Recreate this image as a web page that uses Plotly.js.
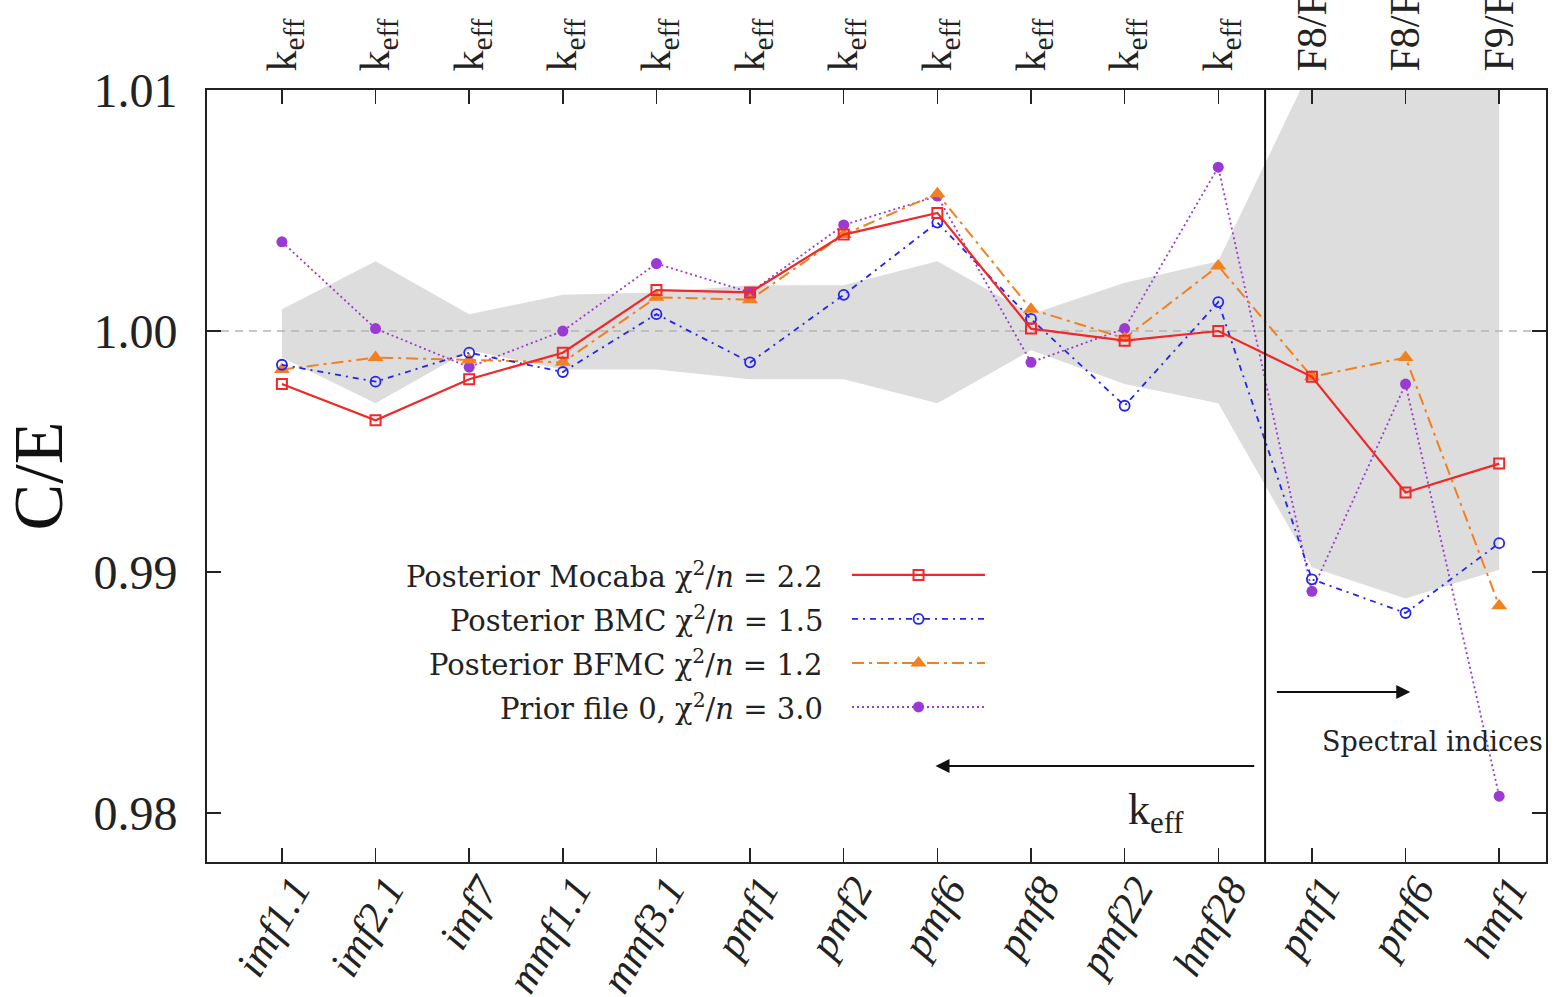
<!DOCTYPE html>
<html><head><meta charset="utf-8">
<script src="https://cdn.plot.ly/plotly-3.0.1.min.js"></script>
<style>html,body{margin:0;padding:0;background:#fff;} #chart{width:1554px;height:997px;}</style>
</head><body><div id="chart"></div>
<script>
// ---- data ----
const categories = ['imf1.1','imf2.1','imf7','mmf1.1','mmf3.1','pmf1','pmf2','pmf6','pmf8','pmf22','hmf28','pmf1','pmf6','hmf1'];
const topLabels = ['k<sub>eff</sub>','k<sub>eff</sub>','k<sub>eff</sub>','k<sub>eff</sub>','k<sub>eff</sub>','k<sub>eff</sub>','k<sub>eff</sub>','k<sub>eff</sub>','k<sub>eff</sub>','k<sub>eff</sub>','k<sub>eff</sub>','F8/F5','F8/F5','F9/F5'];
const mocaba = [0.9978,0.9963,0.9980,0.9991,1.0017,1.0016,1.0040,1.0049,1.0001,0.9996,1.0000,0.9981,0.9933,0.9945];
const bmc    = [0.9986,0.9979,0.9991,0.9983,1.0007,0.9987,1.0015,1.0045,1.0005,0.9969,1.0012,0.9897,0.9883,0.9912];
const bfmc   = [0.9984,0.9989,0.9988,0.9987,1.0014,1.0013,1.0040,1.0057,1.0009,0.9997,1.0027,0.9981,0.9989,0.9886];
const prior  = [1.0037,1.0001,0.9985,1.0000,1.0028,1.0016,1.0044,1.0056,0.9987,1.0001,1.0068,0.9892,0.9978,0.9807];
const bandUpper = [1.0009,1.0029,1.0007,1.0015,1.0016,1.0019,1.0019,1.0029,1.0007,1.0020,1.0029,1.0110,1.0110,1.0110];
const bandLower = [0.9989,0.9970,0.9992,0.9984,0.9984,0.9980,0.9980,0.9970,0.9992,0.9978,0.9970,0.9902,0.9889,0.9901];
const seriesNames = ['Posterior Mocaba χ<sup>2</sup>/<i>n</i> = 2.2','Posterior BMC χ<sup>2</sup>/<i>n</i> = 1.5','Posterior BFMC χ<sup>2</sup>/<i>n</i> = 1.2','Prior file 0, χ<sup>2</sup>/<i>n</i> = 3.0'];
const yTicks = [0.98,0.99,1.00,1.01];
const yTickText = ['0.98','0.99','1.00','1.01'];
const unity = 1.0;

// ---- styles ----
const FONT = 'Liberation Serif, Times New Roman, serif';
const FONT2 = 'DejaVu Serif, serif';
const xs = categories.map((_, i) => i);
const xr = [-0.8, 13.5];
const yr = [0.97797, 1.01];
const styles = [
  {color:'#f02828', dash:'solid', width:2.2, symbol:'square-open', size:10, mlw:2},
  {color:'#2424f0', dash:'6px,5px,2px,5px', width:1.8, symbol:'circle-open', size:10, mlw:1.8},
  {color:'#f08020', dash:'12px,5px,3px,5px', width:2, symbol:'triangle-up', size:14, mlw:0},
  {color:'#9a3ad2', dash:'2px,3px', width:1.8, symbol:'circle', size:11, mlw:0}
];
const seriesData = [mocaba, bmc, bfmc, prior];

const traces = [];
// uncertainty band on the bottom axis (drawn first, underneath)
traces.push({x: xs, y: bandLower, xaxis:'x', yaxis:'y', mode:'lines', line:{width:0, color:'rgba(0,0,0,0)'}, hoverinfo:'skip', showlegend:false});
traces.push({x: xs, y: bandUpper, xaxis:'x', yaxis:'y', mode:'lines', fill:'tonexty', fillcolor:'#dddddd', line:{width:0, color:'rgba(0,0,0,0)'}, hoverinfo:'skip', showlegend:false});
// C/E = 1 reference line, over the band but under the series
traces.push({x: xr, y: [unity, unity], xaxis:'x', yaxis:'y', mode:'lines', line:{color:'#b4b4b4', width:1.5, dash:'8px,6px'}, hoverinfo:'skip', showlegend:false});
// series on the top axis overlay (drawn above the band)
[3,2,1,0].forEach(k => {
  const s = styles[k];
  traces.push({x: xs, y: seriesData[k], xaxis:'x2', yaxis:'y', mode:'lines+markers', name: seriesNames[k],
    line:{color:s.color, dash:s.dash, width:s.width},
    marker:{symbol:s.symbol, size:s.size, color:s.color, line:{color:s.color, width:s.mlw}},
    cliponaxis:false, showlegend:false});
});

// custom legend (symbol to the right of right-aligned text)
const legRowsY = [0.3718, 0.3148, 0.2578, 0.2008];
const legX0 = 0.4817, legX1 = 0.5810, legXm = 0.5314;
const annotations = [];
seriesNames.forEach((nm, k) => {
  const s = styles[k];
  traces.push({x:[legX0, legX1], y:[legRowsY[k], legRowsY[k]], xaxis:'x3', yaxis:'y3', mode:'lines',
    line:{color:s.color, dash:s.dash, width:s.width}, hoverinfo:'skip', showlegend:false});
  traces.push({x:[legXm], y:[legRowsY[k]], xaxis:'x3', yaxis:'y3', mode:'markers',
    marker:{symbol:s.symbol, size:s.size, color:s.color, line:{color:s.color, width:s.mlw}}, hoverinfo:'skip', showlegend:false});
  annotations.push({xref:'paper', yref:'paper', x:0.4615, y:legRowsY[k], xanchor:'right', yanchor:'middle',
    text:nm, showarrow:false, font:{family:FONT2, size:29, color:'#222'}});
});

// arrows and region labels
annotations.push({xref:'x', yref:'y', axref:'x', ayref:'y', x:6.98, y:0.98195, ax:10.40, ay:0.98195, text:'',
  showarrow:true, arrowhead:2, arrowsize:1.4, arrowwidth:2, arrowcolor:'#111'});
annotations.push({xref:'x', yref:'y', axref:'x', ayref:'y', x:12.05, y:0.98502, ax:10.61, ay:0.98502, text:'',
  showarrow:true, arrowhead:2, arrowsize:1.4, arrowwidth:2, arrowcolor:'#111'});
annotations.push({xref:'x', yref:'y', x:9.33, y:0.98004, text:'k<sub>eff</sub>', showarrow:false,
  font:{family:FONT, size:44, color:'#222'}});
annotations.push({xref:'x', yref:'y', x:12.29, y:0.98295, text:'Spectral indices', showarrow:false,
  font:{family:FONT2, size:27, color:'#222'}});

const layout = {
  width:1554, height:997,
  margin:{l:207, r:8, t:90, b:135},
  paper_bgcolor:'#fff', plot_bgcolor:'#fff',
  showlegend:false,
  font:{family:FONT, color:'#222'},
  xaxis:{range:xr, tickvals:xs, ticktext:categories, tickangle:-60, ticks:'inside', ticklen:14, tickwidth:1.5,
    tickcolor:'#222', showline:true, linecolor:'#222', linewidth:2, showgrid:false, zeroline:false,
    tickfont:{family:FONT, size:42, style:'italic', color:'#222'}, ticklabelstandoff:-16, ticklabelshift:12},
  xaxis2:{range:xr, overlaying:'x', side:'top', anchor:'y', tickvals:xs, ticktext:topLabels, tickangle:-90,
    ticks:'inside', ticklen:14, tickwidth:1.5, tickcolor:'#222', showline:true, linecolor:'#222', linewidth:2,
    showgrid:false, zeroline:false, tickfont:{family:FONT, size:42, color:'#222'}, ticklabelstandoff:8},
  yaxis:{range:yr, tickvals:yTicks, ticktext:yTickText, ticks:'inside', ticklen:14, tickwidth:1.5, tickcolor:'#222',
    showline:true, mirror:'ticks', linecolor:'#222', linewidth:2, showgrid:false, zeroline:false,
    tickfont:{family:FONT, size:48, color:'#222'}, ticklabelstandoff:18,
    title:{text:'C/E', font:{family:FONT, size:70, color:'#111'}, standoff:8}},
  xaxis3:{range:[0,1], overlaying:'x', anchor:'y3', visible:false, fixedrange:true},
  yaxis3:{range:[0,1], overlaying:'y', anchor:'x3', visible:false, fixedrange:true},
  shapes:[
    {type:'line', xref:'x', yref:'paper', x0:10.5, x1:10.5, y0:0, y1:1, line:{color:'#111', width:2}, layer:'above'}
  ],
  annotations: annotations
};
Plotly.newPlot('chart', traces, layout, {staticPlot:true, displayModeBar:false});
</script></body></html>
